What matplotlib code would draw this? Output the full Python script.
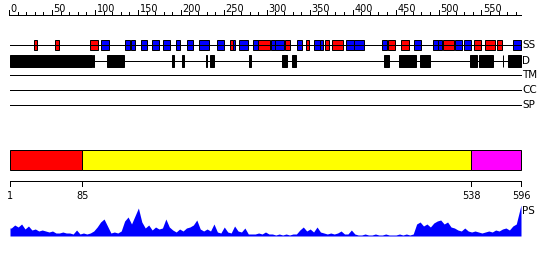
import matplotlib
matplotlib.use("Agg")
import matplotlib.pyplot as plt
import matplotlib.patches as patches
import numpy as np

# protein length and features (residue ranges)
seq_len = 596
helix = [(29, 32), (54, 58), (95, 103), (258, 260), (290, 303), (322, 327),
         (346, 349), (368, 372), (377, 388), (442, 449), (457, 465),
         (506, 517), (542, 549), (555, 565), (568, 573)]
strand = [(107, 116), (135, 140), (142, 146), (154, 160), (167, 174),
          (180, 187), (195, 198), (208, 214), (222, 232), (243, 250),
          (261, 263), (268, 278), (284, 289), (305, 309), (310, 320),
          (336, 341), (355, 361), (362, 365), (393, 401), (402, 413),
          (435, 439), (472, 479), (494, 499), (500, 504), (520, 527),
          (530, 537), (587, 596)]
disorder = [(1, 96), (98, 98), (115, 133), (190, 191), (202, 203), (230, 230),
            (234, 238), (280, 281), (318, 323), (330, 334), (437, 442),
            (454, 473), (479, 489), (537, 544), (548, 563), (575, 575),
            (581, 596)]
domain_bounds = [1, 85, 538, 596]
domain_colors = ["#ff0000", "#ffff00", "#ff00ff"]
track_labels = ["SS", "D", "TM", "CC", "SP"]

# PS profile, one value per 4 residues (height in pixels)
ps_step = 4
ps_profile = [8, 11, 9, 12, 7, 10, 6, 7, 5, 6, 5, 4, 5, 3, 3, 4, 3, 3, 2, 6,
              2, 3, 2, 3, 5, 9, 14, 17, 10, 3, 4, 3, 5, 15, 19, 12, 20, 28, 14, 8,
              11, 6, 9, 7, 8, 17, 9, 6, 4, 7, 5, 8, 9, 11, 16, 7, 5, 7, 5, 12,
              4, 3, 9, 4, 3, 10, 5, 4, 8, 2, 2, 2, 3, 2, 4, 2, 2, 1, 2, 1,
              2, 1, 2, 2, 6, 9, 5, 7, 4, 9, 4, 3, 2, 3, 2, 3, 5, 2, 2, 6,
              2, 1, 1, 2, 1, 1, 2, 1, 1, 2, 1, 1, 1, 2, 1, 2, 1, 2, 12, 14,
              10, 12, 9, 13, 15, 16, 12, 14, 9, 8, 6, 5, 8, 5, 4, 5, 4, 3, 4, 5,
              4, 6, 5, 7, 8, 6, 10, 12, 31]

W, H = 550, 260
px_per_res = 511 / (seq_len - 1)
x_left = 10
lw = 0.72

fig = plt.figure(figsize=(W / 100, H / 100), dpi=100)
ax = fig.add_axes([0, 0, 1, 1])
ax.set_xlim(1 - x_left / px_per_res, 1 + (W - x_left) / px_per_res)
ax.set_ylim(H, 0)
ax.axis("off")

font = dict(family="DejaVu Sans", fontsize=7)

# top ruler
ax.plot([0, seq_len], [15, 15], color="black", lw=lw)
for t in range(0, seq_len, 10):
    top = 10 if t % 50 == 0 else 12
    ax.plot([t, t], [15, top], color="black", lw=lw)
    if t % 50 == 0:
        ax.text(t + 1.5 / px_per_res, 11.5, str(t), ha="left", va="baseline", **font)

# tracks
track_y = [45, 61, 75, 90, 105]
for y, lab in zip(track_y, track_labels):
    ax.plot([1, seq_len], [y, y], color="black", lw=lw)
    ax.text(seq_len + 1.5 / px_per_res, y, lab, ha="left", va="center",
            family="DejaVu Sans", fontsize=7.5)

def boxes(ranges, y, h, color):
    for s, e in ranges:
        ax.add_patch(patches.Rectangle((s - 0.5, y - h / 2), e - s + 1, h,
                                       facecolor=color, edgecolor="black", lw=lw))

boxes(helix, track_y[0], 10, "#ff0000")
boxes(strand, track_y[0], 10, "#0000ff")
boxes(disorder, track_y[1], 12, "black")

# domain bar
for (s, e), c in zip(zip(domain_bounds[:-1], domain_bounds[1:]), domain_colors):
    ax.add_patch(patches.Rectangle((s, 150), e - s, 20, facecolor=c,
                                   edgecolor="black", lw=lw))

# bottom ruler
ax.plot([1, seq_len], [181, 181], color="black", lw=lw)
for t in domain_bounds:
    ax.plot([t, t], [181, 186], color="black", lw=lw)
    ax.text(t, 199, str(t), ha="center", va="baseline", **font)

# PS profile
ps = np.array(ps_profile, dtype=float)
ps_x = np.arange(len(ps)) * ps_step + ps_step / 2 + 0.5
ps_x[-1] = seq_len
ps_x = np.concatenate([[1], ps_x])
ps = np.concatenate([[ps[0]], ps])
ax.fill_between(ps_x, 236, 236 - ps, color="#0000ff", lw=0)
ax.text(seq_len + 1.5 / px_per_res, 211, "PS", ha="left", va="center",
        family="DejaVu Sans", fontsize=7.5)

fig.savefig("out.png", dpi=100)
